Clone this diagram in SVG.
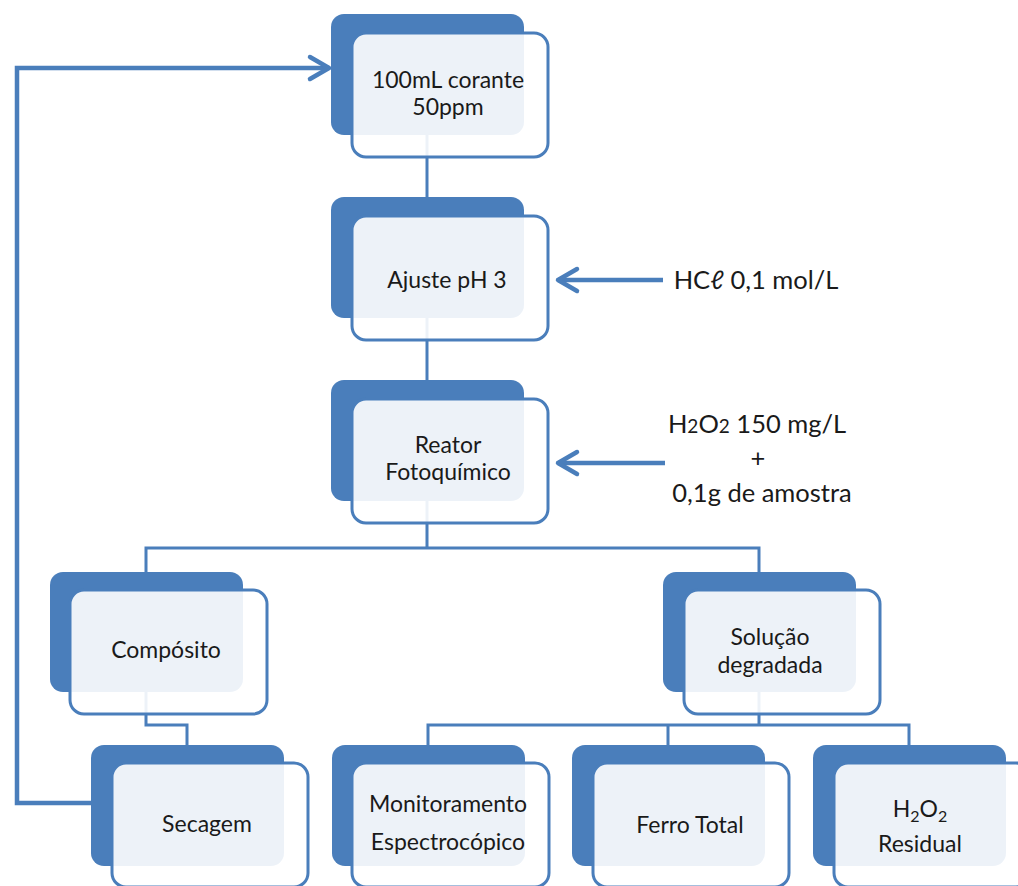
<svg xmlns="http://www.w3.org/2000/svg" width="1018" height="886" viewBox="0 0 1018 886">
<style>
.back{fill:#4a7ebb}
.front{fill:#ffffff;fill-opacity:0.9;stroke:#4a7ebb;stroke-width:3}
.lbl{font-family:Lato,"Open Sans","Liberation Sans",sans-serif;font-size:23px;fill:#1a1a1a;text-anchor:middle}
.side{font-family:Lato,"Open Sans","Liberation Sans",sans-serif;font-size:25.5px;fill:#1a1a1a;text-anchor:middle}
.con{fill:none;stroke:#4a7ebb;stroke-width:3}
.arr{fill:none;stroke:#4a7ebb;stroke-width:4.5;marker-end:url(#ah)}
</style>
<defs>
<marker id="ah" markerUnits="userSpaceOnUse" markerWidth="40" markerHeight="40" viewBox="-30 -20 40 40" refX="0" refY="0" orient="auto" overflow="visible">
<path d="M -19 -11 L 0 0 L -19 11" fill="none" stroke="#4a7ebb" stroke-width="4.5" stroke-linecap="round" stroke-linejoin="round"/>
</marker>
</defs>
<rect width="1018" height="886" fill="#ffffff"/>
<g id="connectors">
<path class="con" d="M 427 134 V 198"/>
<path class="con" d="M 427 317 V 381"/>
<path class="con" d="M 427 500 V 548 M 146 572 V 548 H 759 V 572"/>
<path class="con" d="M 146 690 V 725 H 187 V 746"/>
<path class="con" d="M 759 690 V 725 M 428 746 V 725 H 909 V 746 M 668 725 V 746"/>
<path class="arr" d="M 91 803 H 17 V 68 H 329" stroke-width="5"/>
<path class="arr" d="M 663 280 H 558"/>
<path class="arr" d="M 665 463 H 558"/>
</g>
<g id="node-corante">
<rect class="back" x="331" y="14" width="193" height="121" rx="13"/>
<rect class="front" x="352" y="33" width="196" height="124" rx="14"/>
<text class="lbl" x="448" y="88">100mL corante</text>
<text class="lbl" x="448" y="115">50ppm</text>
</g>
<g id="node-ajuste">
<rect class="back" x="331" y="197" width="193" height="121" rx="13"/>
<rect class="front" x="352" y="216" width="196" height="124" rx="14"/>
<text class="lbl" x="447" y="288">Ajuste pH 3</text>
</g>
<g id="node-reator">
<rect class="back" x="331" y="380" width="193" height="121" rx="13"/>
<rect class="front" x="352" y="399" width="196" height="124" rx="14"/>
<text class="lbl" x="448" y="453">Reator</text>
<text class="lbl" x="448" y="480">Fotoquímico</text>
</g>
<g id="node-composito">
<rect class="back" x="50" y="572" width="193" height="120" rx="13"/>
<rect class="front" x="70" y="590" width="197" height="124" rx="14"/>
<text class="lbl" x="166" y="658">Compósito</text>
</g>
<g id="node-secagem">
<rect class="back" x="91" y="745" width="193" height="121" rx="13"/>
<rect class="front" x="112" y="763" width="196" height="124" rx="14"/>
<text class="lbl" x="207" y="832">Secagem</text>
</g>
<g id="node-solucao">
<rect class="back" x="663" y="572" width="193" height="120" rx="13"/>
<rect class="front" x="684" y="590" width="196" height="124" rx="14"/>
<text class="lbl" x="770" y="645">Solução</text>
<text class="lbl" x="770" y="673">degradada</text>
</g>
<g id="node-monitoramento">
<rect class="back" x="332" y="745" width="193" height="121" rx="13"/>
<rect class="front" x="352" y="763" width="197" height="124" rx="14"/>
<text class="lbl" x="448" y="812">Monitoramento</text>
<text class="lbl" x="448" y="850">Espectrocópico</text>
</g>
<g id="node-ferro">
<rect class="back" x="572" y="745" width="193" height="121" rx="13"/>
<rect class="front" x="593" y="763" width="196" height="124" rx="14"/>
<text class="lbl" x="690" y="833">Ferro Total</text>
</g>
<g id="node-h2o2">
<rect class="back" x="813" y="745" width="193" height="121" rx="13"/>
<rect class="front" x="834" y="763" width="196" height="124" rx="14"/>
<text class="lbl" x="920" y="817">H<tspan font-size="16" dy="5">2</tspan><tspan dy="-5">O</tspan><tspan font-size="16" dy="5">2</tspan></text>
<text class="lbl" x="920" y="852">Residual</text>
</g>
<g id="label-hcl">
<text class="side" x="756" y="289">HCℓ 0,1 mol/L</text>
</g>
<g id="label-h2o2">
<text class="side" x="757" y="433">H<tspan font-size="19">2</tspan>O<tspan font-size="19">2</tspan> 150 mg/L</text>
<text class="side" x="758" y="467">+</text>
<text class="side" x="762" y="502">0,1g de amostra</text>
</g>
</svg>
